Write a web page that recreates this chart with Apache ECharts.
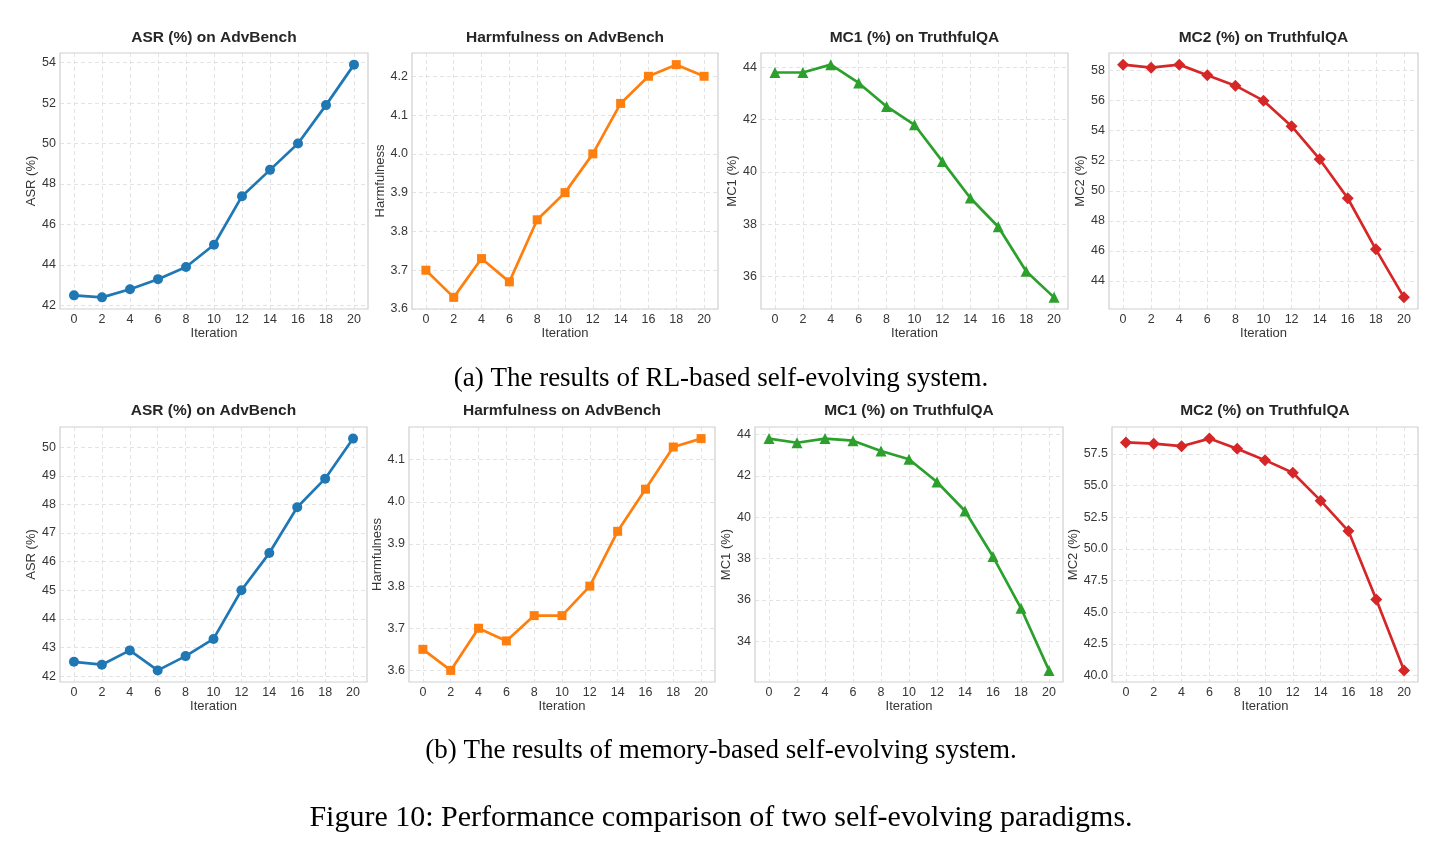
<!DOCTYPE html>
<html>
<head>
<meta charset="utf-8">
<title>Self-evolving paradigms</title>
<script src="https://cdn.jsdelivr.net/npm/echarts@6.0.0/dist/echarts.min.js"></script>
<style>
  html, body { margin: 0; padding: 0; background: #fff; }
  #main { width: 1441px; height: 849px; }
</style>
</head>
<body>
<div id="main"></div>
<script>
// x values and x tick labels, shared by every panel
var iterations = [0, 2, 4, 6, 8, 10, 12, 14, 16, 18, 20];
var iterTicks = [0, 2, 4, 6, 8, 10, 12, 14, 16, 18, 20];

// (a) RL-based self-evolving system
var asrRL   = [42.5, 42.4, 42.8, 43.3, 43.9, 45.0, 47.4, 48.7, 50.0, 51.9, 53.9];
var harmRL  = [3.70, 3.63, 3.73, 3.67, 3.83, 3.90, 4.00, 4.13, 4.20, 4.23, 4.20];
var mc1RL   = [43.8, 43.8, 44.1, 43.4, 42.5, 41.8, 40.4, 39.0, 37.9, 36.2, 35.2];
var mc2RL   = [58.4, 58.2, 58.4, 57.7, 57.0, 56.0, 54.3, 52.1, 49.5, 46.1, 42.9];

// (b) memory-based self-evolving system
var asrMem  = [42.5, 42.4, 42.9, 42.2, 42.7, 43.3, 45.0, 46.3, 47.9, 48.9, 50.3];
var harmMem = [3.65, 3.60, 3.70, 3.67, 3.73, 3.73, 3.80, 3.93, 4.03, 4.13, 4.15];
var mc1Mem  = [43.8, 43.6, 43.8, 43.7, 43.2, 42.8, 41.7, 40.3, 38.1, 35.6, 32.6];
var mc2Mem  = [58.4, 58.3, 58.1, 58.7, 57.9, 57.0, 56.0, 53.8, 51.4, 46.0, 40.4];

// y tick labels
var asrRLTicks   = [42, 44, 46, 48, 50, 52, 54];
var harmRLTicks  = [3.6, 3.7, 3.8, 3.9, 4.0, 4.1, 4.2];
var mc1RLTicks   = [36, 38, 40, 42, 44];
var mc2RLTicks   = [44, 46, 48, 50, 52, 54, 56, 58];
var asrMemTicks  = [42, 43, 44, 45, 46, 47, 48, 49, 50];
var harmMemTicks = [3.6, 3.7, 3.8, 3.9, 4.0, 4.1];
var mc1MemTicks  = [34, 36, 38, 40, 42, 44];
var mc2MemTicks  = [40, 42.5, 45, 47.5, 50, 52.5, 55, 57.5];

var titles = ['ASR (%) on AdvBench', 'Harmfulness on AdvBench', 'MC1 (%) on TruthfulQA', 'MC2 (%) on TruthfulQA'];
var yNames = ['ASR (%)', 'Harmfulness', 'MC1 (%)', 'MC2 (%)'];
var colors = ['#1f77b4', '#ff7f0e', '#2ca02c', '#d62728'];
var symbols = ['circle', 'rect', 'triangle', 'diamond'];
var symbolSizes = [10, 9, 11, 12];

// panel layout: frame [left, top, width, height], gap of y name, decimals
var panels = [
  { k: 0, vals: asrRL,   ticks: asrRLTicks,   dec: 0, box: [60, 53, 308, 256],   gap: 20 },
  { k: 1, vals: harmRL,  ticks: harmRLTicks,  dec: 1, box: [412, 53, 306, 256],  gap: 24 },
  { k: 2, vals: mc1RL,   ticks: mc1RLTicks,   dec: 0, box: [761, 53, 307, 256],  gap: 21 },
  { k: 3, vals: mc2RL,   ticks: mc2RLTicks,   dec: 0, box: [1109, 53, 309, 256], gap: 19.5 },
  { k: 0, vals: asrMem,  ticks: asrMemTicks,  dec: 0, box: [60, 427, 307, 255],  gap: 20 },
  { k: 1, vals: harmMem, ticks: harmMemTicks, dec: 1, box: [409, 427, 306, 255], gap: 22.5 },
  { k: 2, vals: mc1Mem,  ticks: mc1MemTicks,  dec: 0, box: [755, 427, 308, 255], gap: 18.5 },
  { k: 3, vals: mc2Mem,  ticks: mc2MemTicks,  dec: 1, box: [1112, 427, 306, 255], gap: 29 }
];

var textColor = '#363636';
var gridLine = { show: true, lineStyle: { color: '#dcdcdc', width: 0.8, type: [4, 3] } };

var grids = [], xAxes = [], yAxes = [], series = [], graphics = [];

panels.forEach(function (p, i) {
  var lo = Math.min.apply(null, p.vals), hi = Math.max.apply(null, p.vals);
  var pad = (hi - lo) * 0.05;
  grids.push({
    left: p.box[0], top: p.box[1], width: p.box[2], height: p.box[3],
    show: true, borderColor: '#cfcfcf', borderWidth: 1.2, backgroundColor: 'transparent',
    containLabel: false, outerBoundsMode: 'none'
  });
  xAxes.push({
    type: 'value', gridIndex: i, min: -1, max: 21,
    name: 'Iteration', nameLocation: 'middle', nameGap: 17.5,
    nameTextStyle: { color: textColor, fontSize: 13, fontFamily: 'Liberation Sans' },
    axisLine: { show: false }, axisTick: { show: false, customValues: iterTicks },
    axisLabel: { customValues: iterTicks, color: textColor, fontSize: 12.5, fontFamily: 'Liberation Sans', margin: 4 },
    splitLine: gridLine
  });
  yAxes.push({
    type: 'value', gridIndex: i, min: lo - pad, max: hi + pad,
    name: yNames[p.k], nameLocation: 'middle', nameGap: p.gap,
    nameTextStyle: { color: textColor, fontSize: 13, fontFamily: 'Liberation Sans' },
    axisLine: { show: false }, axisTick: { show: false, customValues: p.ticks },
    axisLabel: {
      customValues: p.ticks, color: textColor, fontSize: 12.5, fontFamily: 'Liberation Sans', margin: 4,
      formatter: function (v) { return Number(v).toFixed(p.dec); }
    },
    splitLine: gridLine
  });
  series.push({
    type: 'line', xAxisIndex: i, yAxisIndex: i,
    data: iterations.map(function (x, j) { return [x, p.vals[j]]; }),
    color: colors[p.k],
    lineStyle: { width: 2.7, color: colors[p.k] },
    itemStyle: { color: colors[p.k] },
    symbol: symbols[p.k], symbolSize: symbolSizes[p.k], showAllSymbol: true,
    clip: false, z: 3
  });
  graphics.push({
    type: 'text', x: p.box[0] + p.box[2] / 2, y: i < 4 ? 38 : 411,
    style: {
      text: titles[p.k], fill: '#262626', fontSize: 15.5, fontWeight: 'bold',
      fontFamily: 'Liberation Sans', align: 'center', verticalAlign: 'middle'
    }
  });
});

var captions = [
  { text: '(a) The results of RL-based self-evolving system.', y: 379, size: 27 },
  { text: '(b) The results of memory-based self-evolving system.', y: 751, size: 27 },
  { text: 'Figure 10: Performance comparison of two self-evolving paradigms.', y: 818, size: 30 }
];
captions.forEach(function (c) {
  graphics.push({
    type: 'text', x: 721, y: c.y,
    style: {
      text: c.text, fill: '#000', fontSize: c.size, fontFamily: 'Liberation Serif',
      align: 'center', verticalAlign: 'middle'
    }
  });
});

var myChart = echarts.init(document.getElementById('main'), null, { renderer: 'canvas' });
myChart.setOption({
  animation: false,
  backgroundColor: '#ffffff',
  grid: grids,
  xAxis: xAxes,
  yAxis: yAxes,
  series: series,
  graphic: graphics
});
</script>
</body>
</html>
